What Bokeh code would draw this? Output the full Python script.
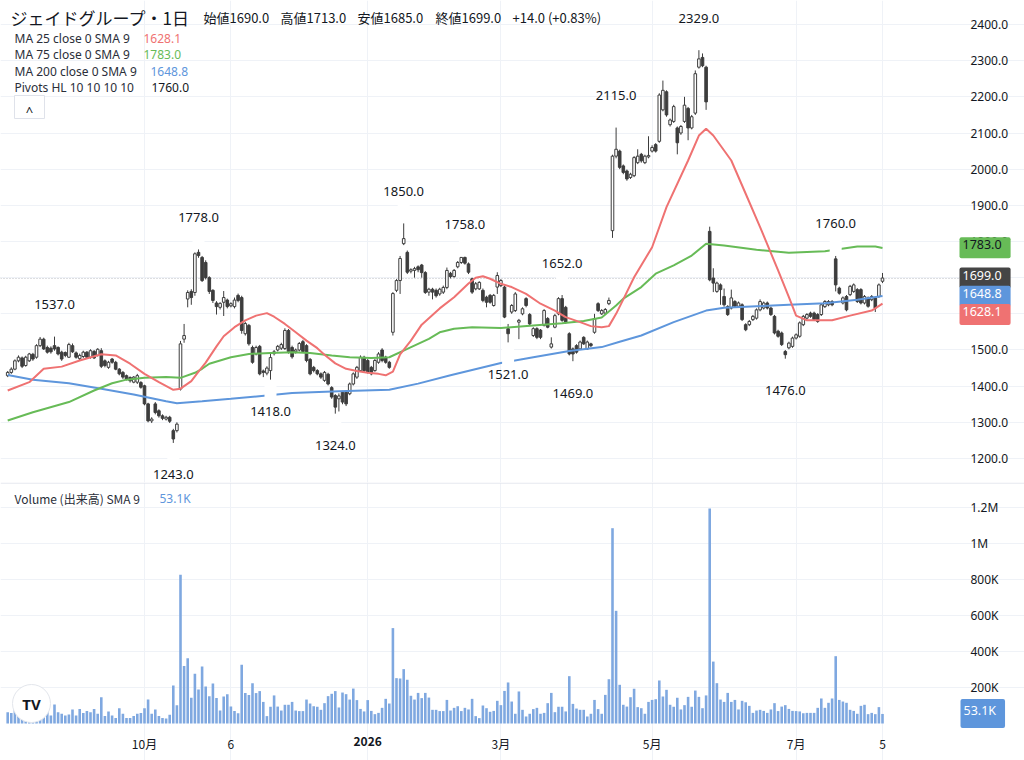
from bokeh.plotting import figure
from bokeh.models import Range1d, FixedTicker, Label, Span, PrintfTickFormatter, Grid, ColumnDataSource
from bokeh.layouts import column
from bokeh.embed import file_html
from bokeh.resources import INLINE

# ---------------- data (daily candles, index = trading day) ----------------
opens = [1429,1438,1447,1470,1478,1457,1470,1488,1480,1512,1530,1507,1505,1512,1507,1494,1493,1480,1512,1492,
         1476,1482,1494,1480,1496,1485,1498,1470,1452,1475,1466,1447,1438,1429,1424,1411,1411,1410,1401,1351,
         1304,1351,1332,1318,1309,1314,1277,1277,1392,1530,1641,1662,1659,1770,1756,1742,1700,1665,1630,1618,
         1632,1638,1622,1620,1651,1645,1545,1568,1507,1489,1510,1442,1436,1443,1490,1500,1505,1504,1554,1507,
         1495,1500,1523,1512,1474,1452,1443,1434,1416,1433,1396,1374,1365,1383,1383,1379,1406,1425,1443,1480,
         1471,1452,1443,1466,1500,1480,1466,1549,1665,1692,1794,1770,1718,1720,1730,1735,1714,1660,1668,1665,
         1655,1660,1673,1712,1703,1730,1742,1756,1738,1697,1669,1669,1665,1646,1651,1623,1674,1678,1674,1559,
         1605,1609,1577,1600,1642,1598,1540,1559,1555,1568,1587,1508,1563,1600,1642,1618,1545,1503,1512,1503,
         1535,1503,1517,1549,1628,1600,1602,1628,1830,2036,2050,2009,1995,1977,1982,2018,2041,2018,2034,2050,
         2068,2077,2164,2214,2123,2132,2114,2100,2132,2168,2114,2155,2282,2309,2282,1828,1699,1662,1680,1648,
         1620,1616,1634,1621,1625,1570,1570,1584,1588,1611,1616,1630,1616,1593,1552,1547,1496,1506,1510,1533,
         1538,1570,1588,1602,1602,1598,1598,1620,1625,1634,1752,1671,1630,1648,1653,1662,1667,1667,1630,1644,
         1639,1644,1648,1690]
highs = [1442,1452,1474,1485,1482,1484,1492,1492,1516,1536,1534,1512,1510,1537,1510,1498,1496,1520,1518,1496,
         1490,1498,1497,1502,1500,1505,1505,1474,1470,1478,1470,1450,1442,1432,1427,1428,1434,1414,1404,1354,
         1314,1356,1336,1322,1318,1318,1282,1300,1525,1572,1665,1668,1770,1778,1760,1748,1704,1668,1635,1632,
         1663,1642,1632,1645,1656,1650,1578,1572,1512,1512,1514,1446,1455,1490,1500,1514,1520,1560,1558,1512,
         1504,1522,1528,1516,1478,1456,1447,1438,1442,1437,1400,1378,1380,1387,1388,1410,1438,1456,1485,1484,
         1475,1456,1475,1494,1505,1484,1470,1660,1696,1760,1850,1775,1726,1730,1734,1738,1718,1672,1672,1670,
         1672,1678,1728,1716,1724,1746,1757,1758,1742,1700,1688,1690,1670,1650,1655,1655,1715,1696,1678,1572,
         1627,1660,1586,1618,1646,1602,1563,1563,1558,1613,1591,1535,1600,1646,1652,1622,1549,1507,1516,1526,
         1538,1526,1520,1600,1632,1613,1616,1645,2040,2115,2054,2013,1999,1990,2036,2055,2045,2040,2091,2066,
         2072,2210,2245,2218,2140,2178,2118,2122,2200,2172,2150,2273,2329,2320,2286,1841,1726,1689,1684,1670,
         1624,1667,1638,1634,1629,1574,1583,1597,1615,1640,1634,1634,1620,1597,1556,1551,1500,1523,1537,1546,
         1579,1597,1602,1606,1606,1602,1629,1638,1638,1638,1760,1675,1648,1652,1680,1684,1671,1671,1652,1648,
         1652,1648,1684,1713]
lows = [1425,1434,1444,1466,1450,1454,1467,1470,1476,1508,1500,1490,1490,1498,1485,1470,1480,1478,1492,1476,
        1472,1478,1476,1476,1475,1482,1450,1452,1448,1462,1444,1430,1420,1416,1410,1408,1406,1393,1347,1300,
        1298,1322,1313,1306,1305,1298,1243,1272,1388,1520,1618,1625,1650,1755,1688,1695,1655,1630,1598,1612,
        1594,1615,1618,1615,1632,1545,1540,1512,1462,1485,1430,1425,1430,1418,1485,1496,1500,1500,1490,1476,
        1490,1496,1492,1466,1430,1438,1430,1420,1412,1402,1365,1324,1330,1350,1345,1375,1402,1420,1440,1438,
        1435,1430,1440,1462,1466,1462,1448,1540,1660,1655,1790,1710,1712,1700,1715,1700,1655,1650,1640,1645,
        1650,1655,1668,1698,1700,1726,1738,1736,1710,1655,1665,1666,1632,1618,1628,1620,1655,1674,1588,1521,
        1600,1605,1530,1596,1618,1568,1536,1530,1530,1565,1560,1504,1560,1596,1578,1572,1485,1469,1490,1500,
        1514,1500,1508,1545,1605,1597,1598,1624,1810,2030,2000,1986,1968,1973,1978,2014,2018,2014,2030,2046,
        2046,2073,2160,2145,2118,2128,2041,2095,2128,2080,2110,2150,2278,2282,2164,1690,1660,1658,1625,1620,
        1594,1612,1617,1617,1580,1552,1566,1580,1584,1607,1612,1612,1594,1543,1534,1511,1476,1502,1506,1529,
        1534,1566,1584,1589,1580,1575,1594,1616,1621,1621,1662,1653,1626,1607,1649,1658,1630,1626,1626,1617,
        1635,1605,1644,1685]
closes = [1438,1447,1470,1480,1455,1480,1489,1475,1512,1530,1503,1494,1495,1503,1489,1475,1485,1515,1495,1480,
          1485,1494,1480,1498,1478,1502,1455,1457,1466,1466,1447,1434,1425,1420,1415,1425,1429,1397,1351,1304,
          1309,1327,1318,1311,1314,1303,1254,1295,1517,1540,1659,1645,1766,1761,1692,1700,1662,1637,1620,1629,
          1645,1620,1628,1638,1637,1554,1573,1517,1466,1507,1434,1438,1450,1479,1495,1510,1515,1554,1496,1481,
          1500,1518,1496,1471,1434,1443,1434,1425,1438,1406,1370,1342,1373,1356,1351,1406,1434,1452,1480,1443,
          1439,1434,1471,1489,1471,1466,1452,1656,1692,1753,1808,1715,1722,1725,1722,1714,1659,1668,1660,1650,
          1668,1673,1720,1703,1720,1742,1756,1740,1715,1660,1683,1687,1637,1632,1632,1651,1706,1692,1591,1545,
          1623,1655,1582,1614,1623,1572,1559,1535,1535,1609,1563,1517,1595,1642,1582,1577,1489,1489,1494,1522,
          1517,1522,1512,1587,1609,1609,1612,1637,2036,2055,2005,1991,1973,1986,2032,2036,2023,2036,2038,2060,
          2050,2205,2218,2150,2136,2173,2073,2118,2177,2114,2145,2264,2305,2286,2186,1694,1685,1685,1667,1625,
          1598,1644,1621,1630,1584,1556,1579,1593,1611,1634,1630,1616,1598,1547,1538,1515,1487,1519,1533,1542,
          1575,1593,1598,1593,1584,1579,1625,1634,1634,1625,1680,1657,1644,1611,1676,1680,1634,1630,1648,1621,
          1648,1616,1680,1699]
volume_k = [63,59,81,54,44,35,50,45,55,60,48,
            67,44,106,63,54,44,50,78,44,80,
            59,69,63,81,54,146,41,67,44,30,
            85,54,31,31,41,54,59,85,133,54,
            78,41,31,28,48,211,102,826,320,363,
            143,276,189,317,206,152,222,141,72,150,
            163,94,69,57,326,170,159,224,169,180,
            120,41,93,156,94,72,104,104,120,72,
            69,69,133,111,96,93,76,113,152,165,
            180,89,172,163,133,194,130,81,67,130,
            70,52,59,87,137,111,530,252,250,302,
            243,154,133,170,141,170,144,76,76,69,
            69,131,72,87,96,69,87,78,137,41,
            30,100,85,65,70,126,102,181,228,122,
            54,178,76,39,54,80,87,54,59,113,
            170,63,93,93,67,263,109,83,76,76,
            39,54,131,80,54,159,246,1085,626,215,
            104,94,146,193,91,85,54,120,131,135,
            239,150,187,104,93,143,78,102,148,93,
            183,148,85,156,1194,344,224,133,120,170,
            120,131,78,126,118,98,59,72,76,70,
            59,78,113,69,94,102,81,70,69,67,
            57,59,59,59,87,139,87,115,139,374,
            131,122,115,76,70,54,98,104,52,59,
            52,91,53]

# moving averages (day index, value)
ma25_idx = [0,6,10,15,20,26,30,34,38,42,46,48,51,53,55,58,60,63,66,69,72,74,77,80,83,86,88,91,94,97,
            100,103,105,107,109,112,115,120,124,128,130,132,134,137,140,144,148,152,155,159,162,165,167,169,
            171,174,179,183,189,192,194,196,201,205,209,214,217,219,222,229,234,240,243]
ma25_val = [1388,1411,1448,1454,1471,1488,1485,1462,1434,1411,1390,1393,1414,1440,1465,1510,1538,1563,1582,1595,
            1602,1592,1572,1549,1526,1505,1487,1463,1448,1442,1437,1434,1430,1440,1488,1526,1570,1615,1646,1684,
            1700,1704,1697,1683,1674,1655,1628,1609,1591,1577,1566,1563,1566,1600,1640,1701,1784,1895,2024,2093,
            2112,2093,2024,1932,1840,1720,1646,1595,1582,1582,1595,1609,1628]
ma75_idx = [0,7,17,24,29,33,38,44,48,52,54,56,62,67,73,79,84,90,95,101,106,111,117,120,124,129,137,146,154,160,
            165,169,171,176,180,185,190,194,199,208,217,227,236,241,243]
ma75_val = [1305,1328,1356,1388,1408,1418,1423,1425,1423,1437,1448,1462,1480,1489,1492,1494,1492,1485,1480,1478,
            1480,1503,1531,1549,1559,1563,1561,1568,1574,1580,1590,1623,1642,1674,1711,1734,1761,1794,1789,1777,
            1769,1773,1786,1786,1782]
ma200_idx = [0,7,17,26,35,44,47,54,62,79,92,106,114,123,137,146,156,165,170,176,185,194,199,208,217,227,236,243]
ma200_val = [1431,1418,1408,1393,1377,1358,1353,1358,1365,1381,1386,1390,1407,1430,1464,1480,1497,1508,1523,1540,
             1577,1609,1617,1621,1625,1629,1639,1649]

# pivots HL
piv_idx = [13, 46, 53, 73, 91, 110, 127, 139, 154, 157, 169, 192, 216, 230]
piv_val = [1537, 1243, 1778, 1418, 1324, 1850, 1758, 1521, 1652, 1469, 2115, 2329, 1476, 1760]
piv_kind = ["H", "L", "H", "L", "L", "H", "H", "L", "H", "L", "H", "H", "L", "H"]

tick_idx = [38, 62, 100, 137, 179, 219, 243]
tick_labels = ["10月", "6", "2026", "3月", "5月", "7月", "5"]
year_tick = 100
price_ticks = [1200, 1300, 1400, 1500, 1600, 1700, 1800, 1900, 2000, 2100, 2200, 2300, 2400]
vol_ticks = [200, 400, 600, 800, 1000, 1200]
vol_tick_labels = ["200K", "400K", "600K", "800K", "1M", "1.2M"]

title_text = "ジェイドグループ・1日"
ohlc_items = ["始値1690.0", "高値1713.0", "安値1685.0", "終値1699.0", "+14.0 (+0.83%)"]
legend_names = ["MA 25 close 0 SMA 9", "MA 75 close 0 SMA 9", "MA 200 close 0 SMA 9", "Pivots HL 10 10 10 10"]
legend_values = ["1628.1", "1783.0", "1648.8", "1760.0"]
vol_name = "Volume (出来高) SMA 9"
vol_value = "53.1K"

# ---------------- style / layout ----------------
FONT = "Noto Sans"
CJK = "Noto Sans CJK JP"
INK = "#131722"
DARK = "#3d3d3d"
RED = "#ef7272"
GREEN = "#67bb57"
BLUE = "#5e96dc"
VOLC = "#7fa8e0"
GRIDC = "#eff2f7"

W = 1024
PH = 482
VH = 278
STEP = 3.6
X0 = -7.2 / STEP
X1 = (W - 7.2) / STEP
XA = (959 - 7.2) / STEP          # where the price scale starts
Y0, Y1 = 1133.6, 2466.4
VK = 0.18                        # px per 1K shares
V1 = (723 - PH) / VK
V0 = V1 - VH / VK
px_i = W / (X1 - X0)
px_p = PH / (Y1 - Y0)
px_v = VH / (V1 - V0)


def sx(px):
    return X0 + px / px_i


def sy(py):
    return Y1 - py / px_p


def vy(py):
    return V1 - (py - PH) / px_v


xr = Range1d(X0, X1)

p = figure(width=W, height=PH, x_range=xr, y_range=Range1d(Y0, Y1), output_backend="svg",
           toolbar_location=None, tools="", x_axis_location=None, y_axis_location="right",
           min_border_left=0, min_border_right=0, min_border_top=0, min_border_bottom=0,
           outline_line_color=None, background_fill_color="white", border_fill_color="white")
ax = p.yaxis[0]
ax.fixed_location = XA
ax.ticker = FixedTicker(ticks=price_ticks)
ax.formatter = PrintfTickFormatter(format="%.1f")
ax.axis_line_color = None
ax.major_tick_line_color = None
ax.minor_tick_line_color = None
ax.major_tick_out = 0
ax.major_tick_in = 0
ax.major_label_standoff = 11
ax.major_label_text_font = FONT
ax.major_label_text_font_size = "12px"
ax.major_label_text_color = INK
p.ygrid.grid_line_color = GRIDC
p.ygrid.bounds = (X0, XA)
p.xgrid.grid_line_color = None
p.add_layout(Grid(dimension=0, ticker=FixedTicker(ticks=tick_idx), grid_line_color=GRIDC))

N = len(closes)
xs = list(range(N))
p.segment(x0=[X0], y0=[closes[-1]], x1=[XA], y1=[closes[-1]], line_color="#7d808a",
          line_dash="1 2", line_width=1, level="underlay")

src = ColumnDataSource(dict(
    x=xs, o=opens, h=highs, l=lows, c=closes,
    top=[max(o, c) for o, c in zip(opens, closes)],
    bot=[min(o, c) for o, c in zip(opens, closes)],
    fill=["white" if c >= o else DARK for o, c in zip(opens, closes)],
))
p.segment(x0="x", y0="l", x1="x", y1="h", source=src, line_color=DARK, line_width=1)
p.vbar(x="x", width=0.72, top="top", bottom="bot", fill_color="fill", line_color=DARK,
       line_width=1, source=src)

p.line(ma200_idx, ma200_val, line_color=BLUE, line_width=2)
p.line(ma75_idx, ma75_val, line_color=GREEN, line_width=2)
p.line(ma25_idx, ma25_val, line_color=RED, line_width=2)

# pivot label pointers (white) and texts
ptr_y = [v + 12.5 / px_p if k == "H" else v - 12.5 / px_p for v, k in zip(piv_val, piv_kind)]
p.rect(x=piv_idx, y=ptr_y, width=12, height=19, width_units="screen", height_units="screen",
       fill_color="white", line_color=None)
for i, v, k in zip(piv_idx, piv_val, piv_kind):
    p.add_layout(Label(x=i, y=v, y_offset=32 if k == "H" else -32, text=f"{v:.1f}",
                       text_align="center", text_baseline="middle", text_font=FONT,
                       text_font_size="13px", text_color=INK))

# header / legend
p.add_layout(Label(x=sx(10), y=sy(17), text=title_text, text_font=CJK, text_font_size="17px",
                   text_color=INK, text_baseline="middle", text_align="left"))
for txt, xp in zip(ohlc_items, [203, 280, 357, 435, 512]):
    p.add_layout(Label(x=sx(xp), y=sy(17), text=txt, text_font=CJK, text_font_size="13px",
                       text_color=INK, text_baseline="middle", text_align="left"))
leg_y = [38, 54, 71, 87]
leg_vx = [143, 143, 150, 151]
leg_col = [RED, GREEN, BLUE, INK]
for name, val, yy, vx, col in zip(legend_names, legend_values, leg_y, leg_vx, leg_col):
    p.add_layout(Label(x=sx(14), y=sy(yy), text=name, text_font=FONT, text_font_size="12px",
                       text_color="#2a2e39", text_baseline="middle", text_align="left"))
    p.add_layout(Label(x=sx(vx), y=sy(yy), text=val, text_font=FONT, text_font_size="12px",
                       text_color=col, text_baseline="middle", text_align="left"))
# collapse button
p.rect(x=[sx(29)], y=[sy(106.5)], width=30, height=23, width_units="screen", height_units="screen",
       fill_color="white", line_color="#dfe2ea", line_width=1)
p.add_layout(Label(x=sx(29), y=sy(110), text="^", text_font=FONT, text_font_size="13px",
                   text_color=INK, text_baseline="middle", text_align="center"))

# price badges on the scale
badges = [("1783.0", 1783.0, GREEN, INK), ("1699.0", closes[-1], "#454545", "white"),
          ("1648.8", 1648.8, BLUE, "white"), ("1628.1", sy(314), RED, "white")]
for txt, yv, bg, fg in badges:
    p.add_layout(Label(x=sx(959), y=yv, text=txt, text_font=FONT, text_font_size="12.5px",
                       text_color=fg, text_baseline="middle", text_align="left",
                       background_fill_color=bg, padding=(3, 9, 3, 9), border_radius=2))

# ---------------- volume pane ----------------
pv = figure(width=W, height=VH, x_range=xr, y_range=Range1d(V0, V1), output_backend="svg",
            toolbar_location=None, tools="", y_axis_location="right", x_axis_location="below",
            min_border_left=0, min_border_right=0, min_border_top=0, min_border_bottom=0,
            outline_line_color=None, background_fill_color="white", border_fill_color="white")
pv.vbar(x=xs, top=volume_k, width=0.72, fill_color=VOLC, line_color=None)

va = pv.yaxis[0]
va.fixed_location = XA
va.ticker = FixedTicker(ticks=vol_ticks)
va.major_label_overrides = {t: s for t, s in zip(vol_ticks, vol_tick_labels)}
va.axis_line_color = None
va.major_tick_line_color = None
va.minor_tick_line_color = None
va.major_tick_out = 0
va.major_tick_in = 0
va.major_label_standoff = 11
va.major_label_text_font = FONT
va.major_label_text_font_size = "12px"
va.major_label_text_color = INK

xa = pv.xaxis[0]
xa.fixed_location = vy(730)
xa.ticker = FixedTicker(ticks=tick_idx)
xa.major_label_overrides = {t: ("" if t == year_tick else s) for t, s in zip(tick_idx, tick_labels)}
xa.axis_line_color = None
xa.major_tick_line_color = None
xa.minor_tick_line_color = None
xa.major_tick_out = 0
xa.major_tick_in = 0
xa.major_label_standoff = 4
xa.major_label_text_font = CJK
xa.major_label_text_font_size = "12px"
xa.major_label_text_color = INK
pv.ygrid.grid_line_color = GRIDC
pv.ygrid.bounds = (X0, XA)
pv.xgrid.grid_line_color = GRIDC
pv.xgrid.bounds = (vy(730), V1)

# bold year label on the time scale
pv.add_layout(Label(x=year_tick, y=vy(741), text=tick_labels[tick_idx.index(year_tick)],
                    text_font=CJK, text_font_size="12px", text_font_style="bold",
                    text_color=INK, text_baseline="middle", text_align="center"))

pv.add_layout(Span(location=vy(482.6), dimension="width", line_color="#e0e3eb", line_width=1))

pv.add_layout(Label(x=sx(14), y=vy(498), text=vol_name, text_font=CJK, text_font_size="12px",
                    text_color="#2a2e39", text_baseline="middle", text_align="left"))
pv.add_layout(Label(x=sx(159), y=vy(498), text=vol_value, text_font=FONT, text_font_size="12px",
                    text_color=BLUE, text_baseline="middle", text_align="left"))
pv.add_layout(Label(x=sx(960), y=vy(713), text=vol_value, text_font=FONT, text_font_size="12.5px",
                    text_color="white", text_baseline="middle", text_align="left",
                    background_fill_color=BLUE, padding=(3, 9, 3, 9), border_radius=2))

# TradingView style logo
pv.scatter(x=[sx(31)], y=[vy(703)], size=38, marker="circle", fill_color="white",
           line_color="#e3e6ec", line_width=1)
pv.add_layout(Label(x=sx(31), y=vy(703), text="TV", text_font=FONT, text_font_size="15px",
                    text_font_style="bold", text_color="#131722", text_baseline="middle",
                    text_align="center"))

layout = column(p, pv)
with open("out.html", "w", encoding="utf-8") as f:
    f.write(file_html(layout, INLINE))
